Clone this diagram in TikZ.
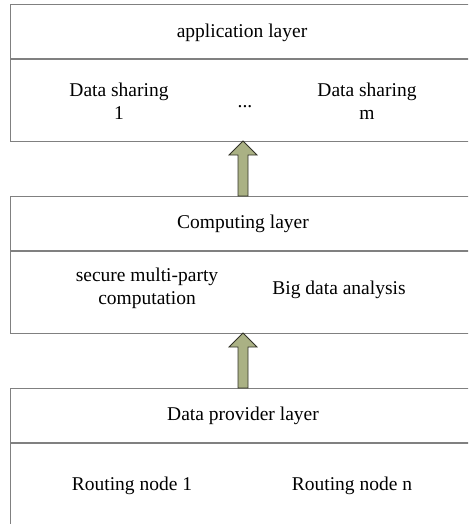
\documentclass[tikz,border=0pt]{standalone}
\usepackage{fontspec}
\setmainfont{Liberation Serif}
\definecolor{boxgray}{RGB}{128,128,128}
\definecolor{arrowfill}{RGB}{170,177,132}
\definecolor{arrowline}{RGB}{50,50,40}
\tikzset{
  layerbox/.style={draw=boxgray, line width=1.4pt, inner sep=0pt, anchor=north west, minimum width=470pt},
  divider/.style={draw=boxgray, line width=1.4pt},
  lbl/.style={inner sep=0pt, align=center, font=\fontsize{19.5}{23}\selectfont},
  bigarrow/.style={fill=arrowfill, draw=arrowline, line width=0.8pt, line join=miter}
}
\begin{document}
\begin{tikzpicture}[x=1pt,y=-1pt]
\useasboundingbox (0,0) rectangle (468,524);
\clip (0,0) rectangle (468,524);
% layer boxes
\node[layerbox, minimum height=137pt] (app) at (10,4) {};
\node[layerbox, minimum height=137pt] (comp) at (10,196) {};
\node[layerbox, minimum height=145pt] (prov) at (10,388) {};
\draw[divider] (10,59) -- (480,59);
\draw[divider] (10,251) -- (480,251);
\draw[divider] (10,443) -- (480,443);
% texts
\node[lbl] (apptitle) at (242,33) {application layer};
\node[lbl] (ds1) at (119,101) {Data sharing\\1};
\node[lbl, anchor=base] (dots) at (245,107) {...};
\node[lbl] (dsm) at (367,101) {Data sharing\\m};
\node[lbl] (comptitle) at (243,224) {Computing layer};
\node[lbl] (smpc) at (147,288) {secure multi-party\\computation};
\node[lbl] (bda) at (339,290) {Big data analysis};
\node[lbl] (provtitle) at (243,416) {Data provider layer};
\node[lbl] (rn1) at (132,486) {Routing node 1};
\node[lbl] (rnn) at (352,486) {Routing node n};
% arrows
\coordinate (a1base) at (243,196);
\coordinate (a2base) at (243,388);
\draw[bigarrow] (a1base) ++(-5,0) -- ++(0,-41) -- ++(-9,0) -- ++(14,-14) -- ++(14,14) -- ++(-9,0) -- ++(0,41) -- cycle;
\draw[bigarrow] (a2base) ++(-5,0) -- ++(0,-41) -- ++(-9,0) -- ++(14,-14) -- ++(14,14) -- ++(-9,0) -- ++(0,41) -- cycle;
\end{tikzpicture}
\end{document}
